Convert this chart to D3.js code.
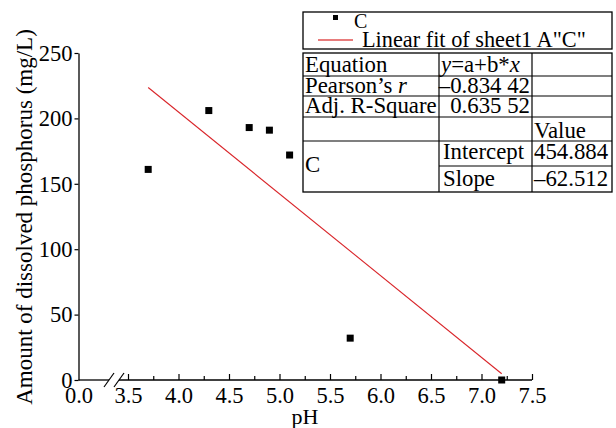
<!DOCTYPE html>
<html>
<head>
<meta charset="utf-8">
<script src="https://cdn.jsdelivr.net/npm/d3@7"></script>
<style>
  body { margin: 0; background: #fff; }
  text { font-family: "Liberation Serif", "Times New Roman", serif; fill: #000; }
</style>
</head>
<body>
<div id="chart-area"></div>
<script>
// Data.
var phValues = [3.7, 4.3, 4.7, 4.9, 5.1, 5.7, 7.2];
var phosphorus = [161, 206, 193, 191, 172, 32, 0];
var fitX = [3.7, 7.2];
var fitY = [223.6, 4.8];
var xTickValues = [0, 3.5, 4.0, 4.5, 5.0, 5.5, 6.0, 6.5, 7.0, 7.5];
var xMinorValues = [3.75, 4.25, 4.75, 5.25, 5.75, 6.25, 6.75, 7.25];
var yTickValues = [0, 50, 100, 150, 200, 250];

// Stats table rows: [col1, col2, col3]
var tableRows = [
  ["Equation", "y=a+b*x", ""],
  ["Pearson\u2019s r", "\u20130.834 42", ""],
  ["Adj. R-Square", "0.635 52", ""],
  ["", "", "Value"],
  ["C", "Intercept", "454.884"],
  ["", "Slope", "\u201362.512"]
];

var W = 616, H = 428;
var serif = "Liberation Serif";
var svg = d3.select("#chart-area")
    .append("svg")
    .attr("width", W)
    .attr("height", H);

// Broken x axis: 0.0 at the origin, then 3.5 .. 7.5
var x = d3.scaleLinear()
    .domain([0, 3.5, 7.5])
    .range([78.5, 128, 532]);

var y = d3.scaleLinear()
    .domain([0, 250])
    .range([380, 53]);

// Y axis
var yAxis = svg.append("g")
    .attr("transform", "translate(" + x(0) + ",0)")
    .call(d3.axisLeft(y).tickValues(yTickValues).tickSize(4).tickSizeOuter(0).tickPadding(2))
    .attr("font-family", serif)
    .attr("font-size", 22.5);
yAxis.select(".domain").attr("stroke-width", 1.3);
yAxis.selectAll(".tick line").attr("stroke-width", 1.2);

// X axis major ticks (inward)
var xAxis = svg.append("g")
    .attr("transform", "translate(0," + y(0) + ")")
    .call(d3.axisBottom(x).tickValues(xTickValues).tickSize(-6).tickPadding(7)
        .tickFormat(d3.format(".1f")))
    .attr("font-family", serif)
    .attr("font-size", 22.5);
xAxis.select(".domain").remove();
xAxis.selectAll(".tick").filter(function(d) { return d === 0; }).select("line").remove();
xAxis.selectAll(".tick line").attr("stroke-width", 1.2);

// X axis minor ticks
svg.append("g")
    .attr("transform", "translate(0," + y(0) + ")")
    .call(d3.axisBottom(x).tickValues(xMinorValues).tickSize(-4).tickFormat(""))
    .call(function(g) { g.select(".domain").remove(); })
    .selectAll(".tick line").attr("stroke-width", 1.2);

// X axis line with break
var brkA = 109, brkB = 119;
svg.append("line")
    .attr("x1", x(0)).attr("x2", brkA)
    .attr("y1", y(0)).attr("y2", y(0))
    .attr("stroke", "#000").attr("stroke-width", 1.3);
svg.append("line")
    .attr("x1", brkB).attr("x2", x(7.5))
    .attr("y1", y(0)).attr("y2", y(0))
    .attr("stroke", "#000").attr("stroke-width", 1.3);
[brkA, brkB].forEach(function(bx) {
    svg.append("line")
        .attr("x1", bx - 5).attr("y1", y(0) + 7)
        .attr("x2", bx + 5).attr("y2", y(0) - 7)
        .attr("stroke", "#000").attr("stroke-width", 1.2);
});

// Linear fit line
svg.append("line")
    .attr("x1", x(fitX[0])).attr("y1", y(fitY[0]))
    .attr("x2", x(fitX[1])).attr("y2", y(fitY[1]))
    .attr("stroke", "#d9252a")
    .attr("stroke-width", 1.1);

// Scatter points
var pts = phValues.map(function(v, i) { return {ph: v, p: phosphorus[i]}; });
var s = 7;
svg.selectAll("rect.pt")
    .data(pts)
    .enter()
    .append("rect")
    .attr("class", "pt")
    .attr("x", d => x(d.ph) - s / 2)
    .attr("y", d => y(d.p) - s / 2)
    .attr("width", s)
    .attr("height", s)
    .attr("fill", "#000");

// Axis titles
svg.append("text")
    .attr("x", 305)
    .attr("y", 424)
    .attr("text-anchor", "middle")
    .style("font-size", "22px")
    .text("pH");

svg.append("text")
    .attr("transform", "translate(32,217) rotate(-90)")
    .attr("text-anchor", "middle")
    .style("font-size", "23px")
    .text("Amount of dissolved phosphorus (mg/L)");

// Legend box
var lx0 = 303, lx1 = 612;
svg.append("rect")
    .attr("x", lx0).attr("y", 12)
    .attr("width", lx1 - lx0).attr("height", 37)
    .attr("fill", "#fff").attr("stroke", "#000").attr("stroke-width", 1.3);
svg.append("rect")
    .attr("x", 333).attr("y", 15).attr("width", 5).attr("height", 5)
    .attr("fill", "#000");
svg.append("text")
    .attr("x", 354).attr("y", 28)
    .style("font-size", "20px")
    .text("C");
svg.append("line")
    .attr("x1", 318).attr("x2", 353)
    .attr("y1", 40).attr("y2", 40)
    .attr("stroke", "#e05050").attr("stroke-width", 1.3);
svg.append("text")
    .attr("x", 362).attr("y", 47)
    .style("font-size", "22.3px")
    .text("Linear fit of sheet1 A\"C\"");

// Stats table
var colX = [303, 439, 532, 612];
var rowY = [53, 76, 96, 117, 141, 166, 192];
var table = svg.append("g");
table.append("rect")
    .attr("x", colX[0]).attr("y", rowY[0])
    .attr("width", colX[3] - colX[0]).attr("height", rowY[6] - rowY[0])
    .attr("fill", "#fff").attr("stroke", "#000").attr("stroke-width", 1.3);
// horizontal lines
rowY.slice(1, 5).forEach(function(ry) {
    table.append("line")
        .attr("x1", colX[0]).attr("x2", colX[3])
        .attr("y1", ry).attr("y2", ry)
        .attr("stroke", "#000").attr("stroke-width", 1.2);
});
table.append("line")
    .attr("x1", colX[1]).attr("x2", colX[3])
    .attr("y1", rowY[5]).attr("y2", rowY[5])
    .attr("stroke", "#000").attr("stroke-width", 1.2);
// vertical lines
[colX[1], colX[2]].forEach(function(cx) {
    table.append("line")
        .attr("x1", cx).attr("x2", cx)
        .attr("y1", rowY[0]).attr("y2", rowY[6])
        .attr("stroke", "#000").attr("stroke-width", 1.2);
});

var baselines = [72, 93, 113, 138, 159, 186];
var fs = "22.8px";
tableRows.forEach(function(row, i) {
    // column 1
    if (row[0]) {
        var t1 = table.append("text")
            .attr("x", colX[0] + 2)
            .attr("y", i === 4 ? 172 : baselines[i])
            .style("font-size", fs);
        if (i === 1) {
            t1.append("tspan").text("Pearson\u2019s ");
            t1.append("tspan").style("font-style", "italic").text("r");
        } else {
            t1.text(row[0]);
        }
    }
    // column 2
    if (row[1]) {
        var t2 = table.append("text")
            .attr("y", baselines[i])
            .style("font-size", fs);
        if (i === 0) {
            t2.attr("x", colX[1] + 2);
            t2.append("tspan").style("font-style", "italic").text("y");
            t2.append("tspan").text("=a+b*");
            t2.append("tspan").style("font-style", "italic").text("x");
        } else if (i <= 2) {
            t2.attr("x", colX[2] - 2).attr("text-anchor", "end").text(row[1]);
        } else {
            t2.attr("x", colX[1] + 4).text(row[1]);
        }
    }
    // column 3
    if (row[2]) {
        table.append("text")
            .attr("x", colX[2] + 2)
            .attr("y", baselines[i])
            .style("font-size", fs)
            .text(row[2]);
    }
});
</script>
</body>
</html>
